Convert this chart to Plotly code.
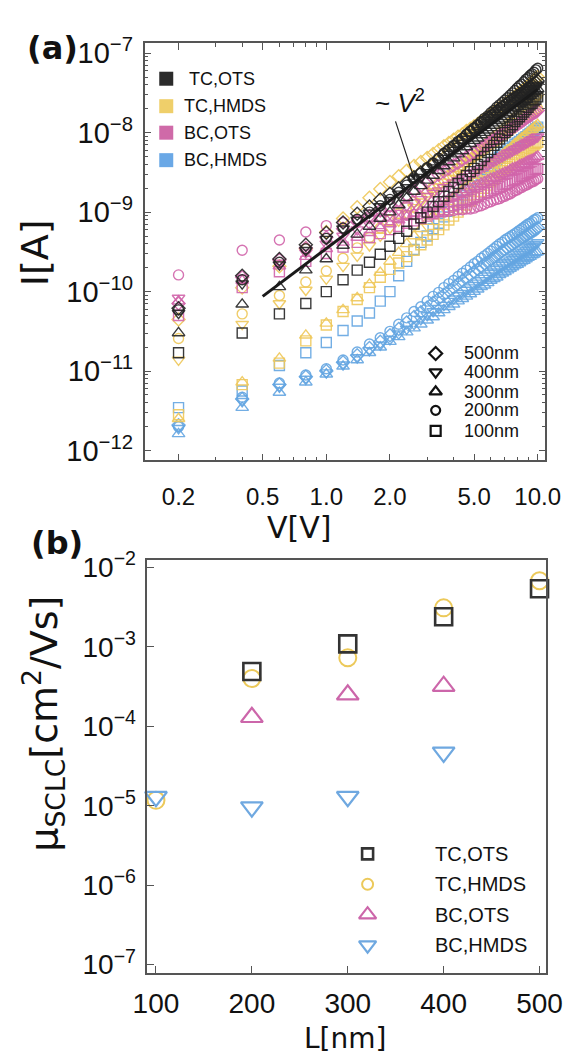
import plotly.graph_objects as go

# ---------------- Panel (a) data: log10(I [A]) versus V ----------------
V_VOLT = [0.2, 0.4, 0.6, 0.8, 1.0, 1.2, 1.4, 1.6, 1.8, 2.0,
          2.2, 2.4, 2.6, 2.8, 3.0, 3.2, 3.4, 3.6, 3.8, 4.0,
          4.2, 4.4, 4.6, 4.8, 5.0, 5.2, 5.4, 5.6, 5.8, 6.0,
          6.2, 6.4, 6.6, 6.8, 7.0, 7.2, 7.4, 7.6, 7.8, 8.0,
          8.2, 8.4, 8.6, 8.8, 9.0, 9.2, 9.4, 9.6, 9.8, 10.0]

TC_OTS_500 = [-10.21, -9.80, -9.59, -9.41, -9.26, -9.13, -9.02, -8.93, -8.84, -8.77,
              -8.70, -8.63, -8.56, -8.50, -8.45, -8.39, -8.33, -8.27, -8.22, -8.17,
              -8.12, -8.08, -8.03, -7.99, -7.95, -7.92, -7.88, -7.85, -7.82, -7.79,
              -7.76, -7.73, -7.70, -7.68, -7.65, -7.63, -7.60, -7.58, -7.56, -7.54,
              -7.52, -7.50, -7.48, -7.46, -7.44, -7.42, -7.40, -7.39, -7.37, -7.35]
TC_OTS_400 = [-10.27, -9.90, -9.66, -9.48, -9.34, -9.21, -9.10, -9.01, -8.93, -8.85,
              -8.77, -8.69, -8.62, -8.56, -8.50, -8.44, -8.38, -8.32, -8.27, -8.22,
              -8.17, -8.13, -8.08, -8.04, -8.00, -7.97, -7.93, -7.90, -7.87, -7.84,
              -7.81, -7.78, -7.75, -7.72, -7.70, -7.68, -7.65, -7.63, -7.61, -7.59,
              -7.57, -7.55, -7.53, -7.51, -7.49, -7.47, -7.45, -7.44, -7.42, -7.40]
TC_OTS_300 = [-10.52, -10.16, -9.94, -9.73, -9.59, -9.42, -9.28, -9.18, -9.08, -9.00,
              -8.91, -8.82, -8.74, -8.67, -8.60, -8.54, -8.48, -8.42, -8.37, -8.32,
              -8.27, -8.23, -8.18, -8.14, -8.10, -8.07, -8.03, -8.00, -7.97, -7.94,
              -7.91, -7.88, -7.85, -7.83, -7.80, -7.77, -7.75, -7.72, -7.69, -7.67,
              -7.64, -7.62, -7.60, -7.58, -7.55, -7.53, -7.51, -7.49, -7.47, -7.45]
TC_OTS_200 = [-10.23, -9.85, -9.63, -9.46, -9.33, -9.20, -9.09, -9.00, -8.92, -8.84,
              -8.75, -8.66, -8.58, -8.51, -8.44, -8.38, -8.32, -8.26, -8.21, -8.16,
              -8.11, -8.07, -8.02, -7.98, -7.94, -7.90, -7.86, -7.82, -7.79, -7.75,
              -7.72, -7.68, -7.65, -7.62, -7.59, -7.56, -7.53, -7.50, -7.47, -7.44,
              -7.41, -7.39, -7.36, -7.33, -7.31, -7.28, -7.26, -7.24, -7.21, -7.19]
TC_OTS_100 = [-10.77, -10.52, -10.28, -10.15, -10.00, -9.85, -9.73, -9.63, -9.53, -9.43,
              -9.33, -9.24, -9.15, -9.07, -9.00, -8.93, -8.87, -8.80, -8.74, -8.69,
              -8.64, -8.59, -8.54, -8.49, -8.45, -8.40, -8.35, -8.30, -8.25, -8.21,
              -8.16, -8.12, -8.08, -8.04, -8.00, -7.97, -7.93, -7.90, -7.86, -7.83,
              -7.80, -7.77, -7.74, -7.71, -7.68, -7.65, -7.63, -7.60, -7.58, -7.55]

TC_HMDS_500 = [-10.35, -9.95, -9.68, -9.46, -9.25, -9.08, -8.94, -8.82, -8.71, -8.62,
               -8.55, -8.48, -8.42, -8.37, -8.32, -8.27, -8.22, -8.17, -8.13, -8.09,
               -8.05, -8.02, -7.98, -7.95, -7.92, -7.89, -7.86, -7.83, -7.80, -7.77,
               -7.74, -7.72, -7.69, -7.67, -7.64, -7.62, -7.59, -7.57, -7.55, -7.52,
               -7.50, -7.48, -7.46, -7.44, -7.41, -7.39, -7.37, -7.34, -7.32, -7.30]
TC_HMDS_400 = [-10.86, -10.41, -10.15, -9.98, -9.84, -9.68, -9.55, -9.42, -9.30, -9.20,
               -9.11, -9.02, -8.94, -8.87, -8.80, -8.74, -8.68, -8.62, -8.57, -8.52,
               -8.47, -8.43, -8.38, -8.34, -8.30, -8.26, -8.22, -8.18, -8.15, -8.11,
               -8.08, -8.04, -8.01, -7.98, -7.95, -7.92, -7.89, -7.86, -7.83, -7.80,
               -7.77, -7.75, -7.72, -7.69, -7.67, -7.64, -7.62, -7.60, -7.57, -7.55]
TC_HMDS_300 = [-11.60, -11.14, -10.84, -10.55, -10.40, -10.23, -10.08, -9.91, -9.76, -9.62,
               -9.51, -9.40, -9.30, -9.21, -9.12, -9.05, -8.99, -8.93, -8.87, -8.82,
               -8.77, -8.72, -8.67, -8.62, -8.58, -8.54, -8.51, -8.47, -8.44, -8.40,
               -8.37, -8.34, -8.31, -8.28, -8.25, -8.22, -8.20, -8.17, -8.14, -8.12,
               -8.09, -8.07, -8.05, -8.03, -8.00, -7.98, -7.96, -7.94, -7.92, -7.90]
TC_HMDS_200 = [-10.59, -10.28, -10.05, -9.88, -9.74, -9.58, -9.45, -9.32, -9.20, -9.10,
               -9.02, -8.94, -8.87, -8.81, -8.75, -8.69, -8.64, -8.59, -8.54, -8.50,
               -8.45, -8.41, -8.37, -8.34, -8.30, -8.27, -8.24, -8.21, -8.18, -8.15,
               -8.12, -8.10, -8.07, -8.04, -8.02, -8.00, -7.97, -7.95, -7.92, -7.90,
               -7.88, -7.86, -7.84, -7.82, -7.80, -7.78, -7.76, -7.74, -7.72, -7.70]
TC_HMDS_100 = [-11.55, -11.17, -10.90, -10.62, -10.42, -10.25, -10.10, -9.95, -9.82, -9.72,
               -9.64, -9.56, -9.48, -9.41, -9.35, -9.28, -9.22, -9.16, -9.10, -9.05,
               -9.00, -8.95, -8.91, -8.86, -8.82, -8.78, -8.74, -8.70, -8.66, -8.62,
               -8.59, -8.55, -8.51, -8.48, -8.45, -8.43, -8.40, -8.38, -8.35, -8.33,
               -8.31, -8.28, -8.26, -8.24, -8.22, -8.20, -8.18, -8.16, -8.14, -8.12]

BC_OTS_500 = [-10.15, -9.82, -9.60, -9.45, -9.32, -9.21, -9.12, -9.05, -8.98, -8.92,
              -8.85, -8.79, -8.73, -8.67, -8.62, -8.57, -8.53, -8.49, -8.45, -8.41,
              -8.38, -8.34, -8.31, -8.28, -8.25, -8.22, -8.19, -8.17, -8.14, -8.11,
              -8.09, -8.07, -8.04, -8.02, -8.00, -7.98, -7.96, -7.94, -7.92, -7.90,
              -7.88, -7.86, -7.84, -7.82, -7.80, -7.79, -7.77, -7.75, -7.74, -7.72]
BC_OTS_400 = [-10.08, -9.83, -9.64, -9.51, -9.40, -9.30, -9.22, -9.15, -9.08, -9.02,
              -8.97, -8.92, -8.88, -8.84, -8.80, -8.76, -8.73, -8.69, -8.66, -8.63,
              -8.60, -8.58, -8.55, -8.52, -8.50, -8.48, -8.45, -8.43, -8.41, -8.38,
              -8.36, -8.34, -8.32, -8.30, -8.28, -8.26, -8.25, -8.23, -8.21, -8.20,
              -8.18, -8.16, -8.15, -8.13, -8.12, -8.10, -8.09, -8.08, -8.06, -8.05]
BC_OTS_300 = [-10.12, -9.86, -9.68, -9.56, -9.46, -9.38, -9.32, -9.26, -9.20, -9.15,
              -9.10, -9.06, -9.02, -8.98, -8.95, -8.92, -8.88, -8.85, -8.83, -8.80,
              -8.77, -8.75, -8.72, -8.70, -8.68, -8.66, -8.64, -8.62, -8.60, -8.58,
              -8.57, -8.55, -8.53, -8.52, -8.50, -8.49, -8.47, -8.45, -8.44, -8.43,
              -8.41, -8.40, -8.39, -8.37, -8.36, -8.35, -8.34, -8.33, -8.31, -8.30]
BC_OTS_200 = [-9.79, -9.48, -9.35, -9.25, -9.17, -9.13, -9.10, -9.08, -9.07, -9.05,
              -9.04, -9.04, -9.03, -9.02, -9.02, -9.01, -9.00, -9.00, -8.99, -8.98,
              -8.97, -8.97, -8.96, -8.96, -8.95, -8.93, -8.92, -8.90, -8.88, -8.87,
              -8.85, -8.84, -8.83, -8.81, -8.80, -8.78, -8.77, -8.75, -8.73, -8.72,
              -8.70, -8.69, -8.67, -8.66, -8.65, -8.63, -8.62, -8.61, -8.59, -8.58]
BC_OTS_100 = [-10.30, -9.95, -9.75, -9.62, -9.52, -9.44, -9.38, -9.32, -9.27, -9.22,
              -9.18, -9.14, -9.11, -9.08, -9.05, -9.02, -8.99, -8.97, -8.94, -8.92,
              -8.90, -8.88, -8.86, -8.84, -8.82, -8.80, -8.78, -8.76, -8.75, -8.73,
              -8.71, -8.70, -8.68, -8.66, -8.65, -8.64, -8.62, -8.60, -8.59, -8.58,
              -8.56, -8.55, -8.54, -8.52, -8.51, -8.50, -8.49, -8.47, -8.46, -8.45]

BC_HMDS_500 = [-11.68, -11.35, -11.17, -11.07, -11.00, -10.89, -10.80, -10.71, -10.63, -10.55,
               -10.47, -10.39, -10.32, -10.26, -10.20, -10.14, -10.09, -10.04, -9.99, -9.95,
               -9.90, -9.86, -9.82, -9.79, -9.75, -9.72, -9.69, -9.65, -9.63, -9.60,
               -9.57, -9.55, -9.52, -9.49, -9.47, -9.45, -9.43, -9.41, -9.39, -9.37,
               -9.35, -9.33, -9.32, -9.30, -9.28, -9.26, -9.25, -9.23, -9.22, -9.20]
BC_HMDS_400 = [-11.72, -11.38, -11.20, -11.10, -11.02, -10.92, -10.83, -10.74, -10.67, -10.60,
               -10.53, -10.47, -10.41, -10.35, -10.30, -10.25, -10.21, -10.17, -10.12, -10.09,
               -10.05, -10.02, -9.98, -9.95, -9.92, -9.89, -9.86, -9.83, -9.80, -9.77,
               -9.75, -9.72, -9.70, -9.67, -9.65, -9.63, -9.61, -9.59, -9.57, -9.55,
               -9.53, -9.51, -9.50, -9.48, -9.46, -9.44, -9.43, -9.41, -9.40, -9.38]
BC_HMDS_300 = [-11.79, -11.46, -11.27, -11.14, -11.04, -10.94, -10.86, -10.77, -10.70, -10.63,
               -10.57, -10.51, -10.46, -10.41, -10.36, -10.32, -10.27, -10.23, -10.19, -10.16,
               -10.12, -10.09, -10.06, -10.03, -10.00, -9.97, -9.94, -9.92, -9.89, -9.86,
               -9.84, -9.82, -9.79, -9.77, -9.75, -9.73, -9.71, -9.69, -9.67, -9.66,
               -9.64, -9.62, -9.61, -9.59, -9.57, -9.56, -9.54, -9.53, -9.51, -9.50]
BC_HMDS_200 = [-11.70, -11.33, -11.15, -11.05, -10.97, -10.86, -10.76, -10.66, -10.58, -10.50,
               -10.41, -10.33, -10.25, -10.19, -10.12, -10.06, -10.01, -9.95, -9.90, -9.86,
               -9.81, -9.77, -9.73, -9.69, -9.65, -9.62, -9.58, -9.55, -9.52, -9.49,
               -9.46, -9.43, -9.40, -9.38, -9.35, -9.33, -9.31, -9.29, -9.27, -9.25,
               -9.23, -9.21, -9.19, -9.17, -9.15, -9.14, -9.12, -9.10, -9.09, -9.07]
BC_HMDS_100 = [-11.46, -11.25, -10.93, -10.77, -10.64, -10.49, -10.37, -10.27, -10.12, -10.00,
               -9.80, -9.62, -9.47, -9.38, -9.30, -9.21, -9.14, -9.06, -8.99, -8.92,
               -8.85, -8.79, -8.73, -8.67, -8.62, -8.58, -8.54, -8.50, -8.46, -8.42,
               -8.39, -8.35, -8.31, -8.28, -8.25, -8.23, -8.20, -8.18, -8.15, -8.13,
               -8.11, -8.09, -8.07, -8.05, -8.03, -8.01, -7.99, -7.97, -7.95, -7.93]

# ~V^2 guide line end points
GUIDE_V = [0.5, 10.0]
GUIDE_I = [8.7e-11, 3.5e-8]

# ---------------- Panel (b) data: mobility versus channel length ----------------
L_NM = [100, 200, 300, 400, 500]
MU_TC_OTS = [None, 4.9e-4, 1.09e-3, 2.4e-3, 5.4e-3]
MU_TC_HMDS = [1.17e-5, 4.0e-4, 7.3e-4, 3.1e-3, 6.8e-3]
MU_BC_OTS = [None, 1.3e-4, 2.5e-4, 3.2e-4, None]
MU_BC_HMDS = [1.3e-5, 9.6e-6, 1.3e-5, 4.7e-5, None]

GROUPS = ["TC,OTS", "TC,HMDS", "BC,OTS", "BC,HMDS"]
LENGTHS = [500, 400, 300, 200, 100]
LENGTH_LABELS = ["500nm", "400nm", "300nm", "200nm", "100nm"]

A_XTICKS = [0.2, 0.5, 1.0, 2.0, 5.0, 10.0]
A_XTICKTEXT = ["0.2", "0.5", "1.0", "2.0", "5.0", "10.0"]
A_YTICKS = [1e-12, 1e-11, 1e-10, 1e-9, 1e-8, 1e-7]
A_YTICKTEXT = ["10<sup>\u221212</sup>", "10<sup>\u221211</sup>", "10<sup>\u221210</sup>",
               "10<sup>\u22129</sup>", "10<sup>\u22128</sup>", "10<sup>\u22127</sup>"]
B_XTICKS = [100, 200, 300, 400, 500]
B_YTICKS = [1e-7, 1e-6, 1e-5, 1e-4, 1e-3, 1e-2]
B_YTICKTEXT = ["10<sup>\u22127</sup>", "10<sup>\u22126</sup>", "10<sup>\u22125</sup>",
               "10<sup>\u22124</sup>", "10<sup>\u22123</sup>", "10<sup>\u22122</sup>"]

# ---------------- styles ----------------
FONT = "Liberation Sans, Arial, sans-serif"
TITLE_FONT = "DejaVu Sans, Liberation Sans, sans-serif"
COL_A = {"TC,OTS": "rgba(35,35,35,0.9)", "TC,HMDS": "rgba(238,200,90,0.9)",
         "BC,OTS": "rgba(208,100,170,0.9)", "BC,HMDS": "rgba(100,165,225,0.9)"}
COL_KEY = {"TC,OTS": "#2b2b2b", "TC,HMDS": "#efcf6a", "BC,OTS": "#cf6aa8", "BC,HMDS": "#6aa8e6"}
COL_B = {"TC,OTS": "#333333", "TC,HMDS": "#ecc95a", "BC,OTS": "#cc66aa", "BC,HMDS": "#6fa8e0"}
SYM_A = {500: "diamond-open", 400: "triangle-down-open", 300: "triangle-up-open",
         200: "circle-open", 100: "square-open"}
SIZE_A = {500: 10, 400: 11, 300: 11, 200: 10, 100: 10}
AXC = "#555555"

SERIES = {
    "TC,OTS": {500: TC_OTS_500, 400: TC_OTS_400, 300: TC_OTS_300, 200: TC_OTS_200, 100: TC_OTS_100},
    "TC,HMDS": {500: TC_HMDS_500, 400: TC_HMDS_400, 300: TC_HMDS_300, 200: TC_HMDS_200, 100: TC_HMDS_100},
    "BC,OTS": {500: BC_OTS_500, 400: BC_OTS_400, 300: BC_OTS_300, 200: BC_OTS_200, 100: BC_OTS_100},
    "BC,HMDS": {500: BC_HMDS_500, 400: BC_HMDS_400, 300: BC_HMDS_300, 200: BC_HMDS_200, 100: BC_HMDS_100},
}
for g in SERIES:
    for L in SERIES[g]:
        assert len(SERIES[g][L]) == len(V_VOLT), (g, L)

fig = go.Figure()

for g in ["BC,HMDS", "TC,HMDS", "BC,OTS", "TC,OTS"]:
    for L in [100, 200, 300, 400, 500]:
        fig.add_trace(go.Scatter(
            x=V_VOLT, y=[10 ** v for v in SERIES[g][L]], mode="markers",
            marker=dict(symbol=SYM_A[L], size=SIZE_A[L], color=COL_A[g],
                        line=dict(width=1.4, color=COL_A[g])),
            xaxis="x", yaxis="y", showlegend=False, hoverinfo="skip"))

fig.add_trace(go.Scatter(x=GUIDE_V, y=GUIDE_I, mode="lines",
                         line=dict(color="#1a1a1a", width=3),
                         xaxis="x", yaxis="y", showlegend=False, hoverinfo="skip"))

B_SPEC = [("TC,HMDS", MU_TC_HMDS, "circle-open", 17, 2.0),
          ("BC,OTS", MU_BC_OTS, "triangle-up-open", 19, 2.2),
          ("BC,HMDS", MU_BC_HMDS, "triangle-down-open", 19, 2.2),
          ("TC,OTS", MU_TC_OTS, "square-open", 17, 2.6)]
for g, vals, sym, sz, lw in B_SPEC:
    fig.add_trace(go.Scatter(x=L_NM, y=vals, mode="markers",
                             marker=dict(symbol=sym, size=sz, color=COL_B[g],
                                         line=dict(width=lw, color=COL_B[g])),
                             xaxis="x2", yaxis="y2", showlegend=False,
                             hoverinfo="skip", cliponaxis=False))

KEY_A_Y = [68, 96, 123, 151]
for g, yy in zip(GROUPS, KEY_A_Y):
    fig.add_trace(go.Scatter(x=[160], y=[yy], mode="markers",
                             marker=dict(symbol="square", size=14, color=COL_KEY[g]),
                             xaxis="x3", yaxis="y3", showlegend=False, hoverinfo="skip"))
KEY_S_Y = [348, 367, 387, 406, 427]
KEY_S_SIZE = {500: 10, 400: 11, 300: 11, 200: 9, 100: 10}
for L, yy in zip(LENGTHS, KEY_S_Y):
    fig.add_trace(go.Scatter(x=[445], y=[yy], mode="markers",
                             marker=dict(symbol=SYM_A[L], size=KEY_S_SIZE[L], color="#111",
                                         line=dict(width=2.2, color="#111")),
                             xaxis="x3", yaxis="y3", showlegend=False, hoverinfo="skip"))
KEY_B_Y = [858, 889, 920, 951]
KEY_B_SYM = {"TC,OTS": ("square-open", 11, 2.6), "TC,HMDS": ("circle-open", 11, 2.0),
             "BC,OTS": ("triangle-up-open", 15, 2.2), "BC,HMDS": ("triangle-down-open", 15, 2.2)}
for g, yy in zip(GROUPS, KEY_B_Y):
    sym, sz, lw = KEY_B_SYM[g]
    fig.add_trace(go.Scatter(x=[373], y=[yy], mode="markers",
                             marker=dict(symbol=sym, size=sz, color=COL_B[g],
                                         line=dict(width=lw, color=COL_B[g])),
                             xaxis="x3", yaxis="y3", showlegend=False, hoverinfo="skip"))

ann = []
def txt(x, y, s, size, xanchor="left", family=FONT, **kw):
    d = dict(x=x, y=y, xref="x3", yref="y3", text=s, showarrow=False,
             xanchor=xanchor, yanchor="middle", font=dict(family=family, size=size, color="#111"))
    d.update(kw)
    ann.append(d)

for g, yy, xx in zip(GROUPS, KEY_A_Y, [182, 177, 177, 177]):
    txt(xx, yy, g, 18)
for lab, yy in zip(LENGTH_LABELS, KEY_S_Y):
    txt(473, yy, lab, 18)
for g, yy in zip(GROUPS, KEY_B_Y):
    txt(442, yy, g, 20)

txt(40, 37, "<b>(a)</b>", 32, xanchor="center", family="DejaVu Sans")
txt(44, 541, "<b>(b)</b>", 32, xanchor="center", family="DejaVu Sans")
txt(300, 525, "V[V]", 30, xanchor="center", family=TITLE_FONT)
txt(349, 1046, "L[nm]", 28, xanchor="center", family=TITLE_FONT)
txt(22, 245, "I[A]", 38, xanchor="center", family=TITLE_FONT, textangle=-90)
txt(30, 725, "\u03bc<sub>SCLC</sub>[cm<sup>2</sup>/Vs]", 38, xanchor="center",
    family=TITLE_FONT, textangle=-90)
txt(407, 91, "~ <i>V</i><sup>2</sup>", 26, xanchor="center")

ann.append(dict(x=423, y=172, xref="x3", yref="y3", ax=402, ay=110, axref="x3", ayref="y3",
                text="", showarrow=True, arrowhead=2, arrowsize=1.1, arrowwidth=1.2,
                arrowcolor="#222"))

A_XMINOR = [0.3, 0.4, 0.6, 0.7, 0.8, 0.9, 3, 4, 6, 7, 8, 9]
A_YMINOR = [m * 10 ** e for e in range(-12, -6) for m in range(2, 10)]

axis_common = dict(showgrid=False, zeroline=False, showline=True, linecolor=AXC,
                   linewidth=1.5, ticks="inside", tickcolor=AXC, tickwidth=1.2)

fig.update_layout(
    width=585, height=1063, margin=dict(l=0, r=0, t=0, b=0),
    paper_bgcolor="white", plot_bgcolor="rgba(0,0,0,0)", showlegend=False,
    xaxis=dict(type="log", domain=[137 / 585, 561 / 585], range=[-0.860, 1.036],
               anchor="y", tickmode="array", tickvals=A_XTICKS, ticktext=A_XTICKTEXT,
               ticklen=7, mirror="allticks", ticklabelstandoff=14,
               tickfont=dict(family=FONT, size=24, color="#111"),
               minor=dict(tickvals=A_XMINOR, ticks="inside", ticklen=4, tickcolor=AXC),
               **axis_common),
    yaxis=dict(type="log", domain=[1 - 457 / 1063, 1 - 32 / 1063], range=[-12.124, -6.877],
               anchor="x", tickmode="array", tickvals=A_YTICKS, ticktext=A_YTICKTEXT,
               ticklen=7, mirror="allticks", ticklabelstandoff=4,
               tickfont=dict(family=FONT, size=29, color="#111"),
               minor=dict(tickvals=A_YMINOR, ticks="inside", ticklen=4, tickcolor=AXC),
               **axis_common),
    xaxis2=dict(domain=[140 / 585, 562 / 585], range=[91, 507], anchor="y2",
                tickmode="array", tickvals=B_XTICKS, ticklen=7, mirror=True,
                ticklabelstandoff=5, tickfont=dict(family=FONT, size=28, color="#111"),
                **axis_common),
    yaxis2=dict(type="log", domain=[1 - 979 / 1063, 1 - 558 / 1063], range=[-7.1, -1.9],
                anchor="x2", tickmode="array", tickvals=B_YTICKS, ticktext=B_YTICKTEXT,
                ticklen=7, mirror=True, ticklabelstandoff=4,
                tickfont=dict(family=FONT, size=28, color="#111"), **axis_common),
    xaxis3=dict(domain=[0, 1], range=[0, 585], anchor="y3", visible=False, fixedrange=True),
    yaxis3=dict(domain=[0, 1], range=[1063, 0], anchor="x3", visible=False, fixedrange=True),
    annotations=ann,
)

fig.write_html("out.html", config={"displayModeBar": False},
               post_script="document.body.style.margin='0px';document.body.style.overflow='hidden';")
